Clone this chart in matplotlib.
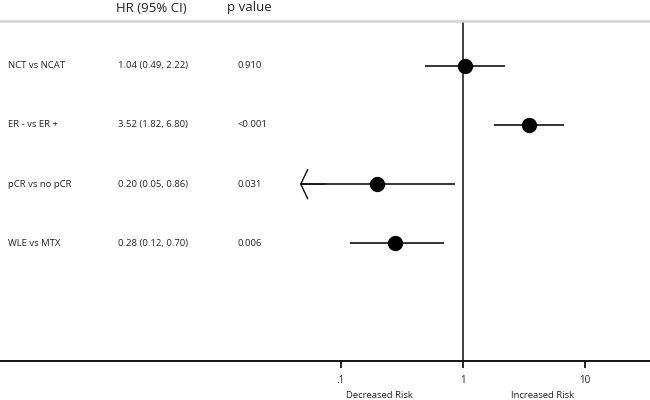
import matplotlib
matplotlib.use("Agg")
import matplotlib.pyplot as plt
from matplotlib.transforms import blended_transform_factory
import numpy as np

labels = ["NCT vs NCAT", "ER - vs ER +", "pCR vs no pCR", "WLE vs MTX"]
hr = [1.04, 3.52, 0.20, 0.28]
ci_low = [0.49, 1.82, 0.05, 0.12]
ci_high = [2.22, 6.80, 0.86, 0.70]
hr_text = ["1.04 (0.49, 2.22)", "3.52 (1.82, 6.80)", "0.20 (0.05, 0.86)", "0.28 (0.12, 0.70)"]
p_text = ["0.910", "<0.001", "0.031", "0.006"]
tick_vals = [0.1, 1, 10]
tick_labels = [".1", "1", "10"]

FONT = "Open Sans"
TXT = "#222222"
W, H = 650, 400
fig = plt.figure(figsize=(6.5, 4), dpi=100)
top_px, bot_px = 21, 361
ax = fig.add_axes([0, (H - bot_px) / H, 1, (bot_px - top_px) / H])

dec = 121.9
x1px = 462.7
ax.set_xscale("log")
ax.set_xlim(10 ** (-x1px / dec), 10 ** ((W - x1px) / dec))
row0, step = 65.7, 59.2
ax.set_ylim((bot_px - row0) / step, (top_px - row0) / step)

ys = np.arange(len(labels))
clip_low = 10 ** ((300 - x1px) / dec)
for i in range(len(labels)):
    lo = ci_low[i]
    if lo < clip_low * 1.1:
        ax.plot([clip_low, ci_high[i]], [ys[i], ys[i]], color="#111111", lw=1.2, solid_capstyle="butt")
        ax.annotate("", xy=(clip_low, ys[i]), xytext=(clip_low * 1.6, ys[i]),
                    arrowprops=dict(arrowstyle="->,head_length=0.5,head_width=1.05",
                                    color="#111111", lw=1.0, mutation_scale=10,
                                    shrinkA=0, shrinkB=0))
    else:
        ax.plot([lo, ci_high[i]], [ys[i], ys[i]], color="#111111", lw=1.2, solid_capstyle="butt")
ax.plot(hr, ys, "o", color="black", markersize=10, zorder=5)

ax.axvline(1, color="#333333", lw=1.3, zorder=1)

for s in ["left", "right"]:
    ax.spines[s].set_visible(False)
ax.spines["top"].set_color("#d4d4d4")
ax.spines["top"].set_linewidth(1.8)
ax.spines["bottom"].set_color("black")
ax.spines["bottom"].set_linewidth(1.3)

ax.set_yticks([])
ax.xaxis.set_minor_locator(matplotlib.ticker.NullLocator())
ax.set_xticks(tick_vals)
ax.set_xticklabels(tick_labels, fontfamily=FONT, fontsize=7, color=TXT)
ax.tick_params(axis="x", length=5, width=1.2, color="black", pad=5)

tr = blended_transform_factory(fig.transFigure, ax.transData)
for i in range(len(labels)):
    ax.text(8 / W, ys[i], labels[i], transform=tr, fontfamily=FONT, fontsize=6.8, color=TXT,
            va="center", ha="left")
    ax.text(118 / W, ys[i], hr_text[i], transform=tr, fontfamily=FONT, fontsize=6.8, color=TXT,
            va="center", ha="left")
    ax.text(238 / W, ys[i], p_text[i], transform=tr, fontfamily=FONT, fontsize=6.8, color=TXT,
            va="center", ha="left")

fig.text(151.5 / W, 1 - 8 / H, "HR (95% CI)", fontfamily=FONT, fontsize=9.5, color=TXT, ha="center", va="center")
fig.text(249 / W, 1 - 8 / H, "p value", fontfamily=FONT, fontsize=9.5, color=TXT, ha="center", va="center")
fig.text(379 / W, 1 - 395 / H, "Decreased Risk", fontfamily=FONT, fontsize=6.8, color=TXT, ha="center", va="center")
fig.text(543 / W, 1 - 395 / H, "Increased Risk", fontfamily=FONT, fontsize=6.8, color=TXT, ha="center", va="center")

fig.savefig("out.png", dpi=100)
